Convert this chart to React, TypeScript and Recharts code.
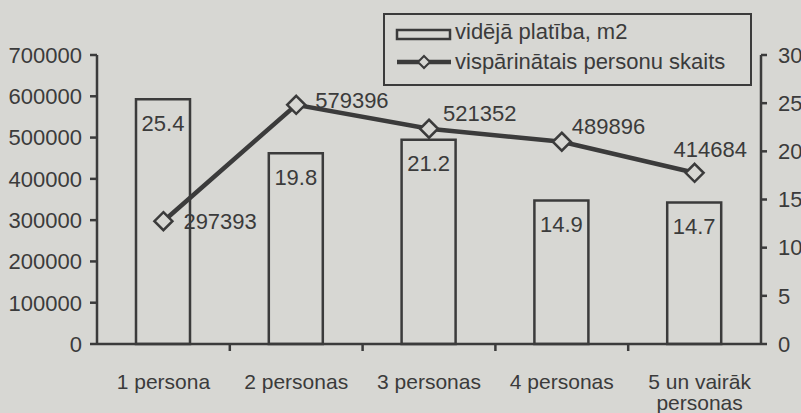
import { ComposedChart, Bar, Line, XAxis, YAxis, LabelList, Legend } from "recharts";

const categories = ["1 persona", "2 personas", "3 personas", "4 personas", "5 un vairāk personas"];
const avgArea = [25.4, 19.8, 21.2, 14.9, 14.7];
const personCount = [297393, 579396, 521352, 489896, 414684];
const leftTicks = [0, 100000, 200000, 300000, 400000, 500000, 600000, 700000];
const rightTicks = [0, 5, 10, 15, 20, 25, 30];

const data = categories.map((c, i) => ({ name: c, area: avgArea[i], persons: personCount[i] }));

const ink = "#3b3b3b";
const bg = "#d7d7d3";
const font = "'Liberation Sans', Arial, sans-serif";
const fs = 22;

function CategoryTick(props: any) {
  const { x, y, payload, index } = props;
  const half = payload?.offset ?? 66;
  const label: string = payload.value;
  const cut = label.lastIndexOf(" ");
  const lines = label.length > 12 ? [label.slice(0, cut), label.slice(cut + 1)] : [label];
  return (
    <g>
      {index > 0 && <line x1={x - half} x2={x - half} y1={y} y2={y + 7} stroke={ink} strokeWidth={2.5} />}
      {lines.map((l, i) => (
        <text key={i} x={x + (lines.length > 1 ? 5 : 0)} y={y + 45 + i * 21} textAnchor="middle" fill={ink} fontSize={21} fontFamily={font}>
          {l}
        </text>
      ))}
    </g>
  );
}

function Diamond(props: any) {
  const { cx, cy } = props;
  if (cx == null || cy == null) return null;
  const r = 9;
  return <polygon points={`${cx},${cy - r} ${cx + r},${cy} ${cx},${cy + r} ${cx - r},${cy}`} fill={bg} stroke={ink} strokeWidth={2.5} />;
}

// label placement next to each point, as in the original
const lineLabelShift = [
  [20, 0],
  [19, -4],
  [14, -15],
  [10, -15],
  [-21, -23],
];

function PointLabel(props: any) {
  const { x, y, value, index } = props;
  const [dx, dy] = lineLabelShift[index] ?? [15, -10];
  return (
    <text x={x + dx} y={y + dy} dominantBaseline="central" textAnchor="start" fill={ink} fontSize={fs} fontFamily={font}>
      {value}
    </text>
  );
}

function LegendBox() {
  return (
    <div style={{ width: 369, height: 73, boxSizing: "border-box", border: `2.5px solid ${ink}`, fontFamily: font, fontSize: fs, color: ink, position: "relative" }}>
      <svg width={60} height={70} style={{ position: "absolute", left: 10, top: 0 }}>
        <rect x={2} y={15} width={53} height={9} fill="none" stroke={ink} strokeWidth={2.5} />
        <line x1={2} x2={56} y1={47} y2={47} stroke={ink} strokeWidth={4.5} />
        <polygon points="29,41 35,47 29,53 23,47" fill={bg} stroke={ink} strokeWidth={2} />
      </svg>
      <div style={{ position: "absolute", left: 70, top: 5, lineHeight: "24px" }}>vidējā platība, m2</div>
      <div style={{ position: "absolute", left: 70, top: 35, lineHeight: "24px" }}>vispārinātais personu skaits</div>
    </div>
  );
}

export default function App() {
  return (
    <div style={{ position: "absolute", left: 0, top: 0, width: 801, height: 413, background: bg }}>
      <ComposedChart width={801} height={413} data={data} margin={{ top: 55, right: 0, bottom: 0, left: 0 }}>
        <XAxis
          dataKey="name"
          height={69}
          tickSize={0}
          tickMargin={0}
          tickLine={false}
          axisLine={{ stroke: ink, strokeWidth: 2.5 }}
          tick={<CategoryTick />}
          interval={0}
        />
        <YAxis
          yAxisId="left"
          width={97}
          domain={[0, 700000]}
          ticks={leftTicks}
          tickSize={7}
          tickMargin={8}
          stroke={ink}
          axisLine={{ stroke: ink, strokeWidth: 2.5 }}
          tickLine={{ stroke: ink, strokeWidth: 2.5 }}
          tick={{ fill: ink, fontSize: fs, fontFamily: font }}
        />
        <YAxis
          yAxisId="right"
          orientation="right"
          width={40}
          domain={[0, 30]}
          ticks={rightTicks}
          tickSize={6}
          tickMargin={11}
          stroke={ink}
          axisLine={{ stroke: ink, strokeWidth: 2.5 }}
          tickLine={{ stroke: ink, strokeWidth: 2.5 }}
          tick={{ fill: ink, fontSize: fs, fontFamily: font }}
        />
        <Legend
          layout="horizontal"
          verticalAlign="middle"
          align="center"
          content={() => <LegendBox />}
          wrapperStyle={{ position: "absolute", left: 383, top: 13, width: 369, height: 73 }}
        />
        <Bar yAxisId="right" dataKey="area" barSize={54} fill="none" stroke={ink} strokeWidth={2.5} isAnimationActive={false}>
          <LabelList dataKey="area" position="insideTop" offset={16} fill={ink} fontSize={fs} fontFamily={font} />
        </Bar>
        <Line
          yAxisId="left"
          type="linear"
          dataKey="persons"
          stroke={ink}
          strokeWidth={4.5}
          dot={<Diamond />}
          activeDot={false}
          isAnimationActive={false}
        >
          <LabelList dataKey="persons" content={<PointLabel />} />
        </Line>
      </ComposedChart>
    </div>
  );
}
